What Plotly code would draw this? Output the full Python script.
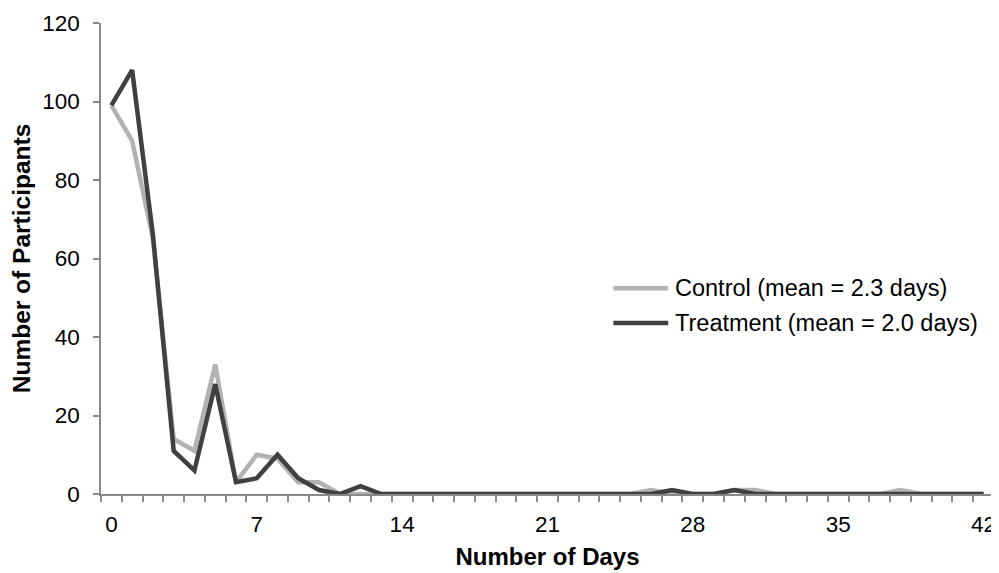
import plotly.graph_objects as go

days = list(range(0, 43))
control = [99, 90, 65, 14, 11, 33, 3, 10, 9, 3, 3, 0, 0, 0, 0, 0, 0, 0, 0, 0,
           0, 0, 0, 0, 0, 0, 1, 0, 0, 0, 1, 1, 0, 0, 0, 0, 0, 0, 1, 0, 0, 0, 0]
treatment = [99, 108, 66, 11, 6, 28, 3, 4, 10, 4, 1, 0, 2, 0, 0, 0, 0, 0, 0, 0,
             0, 0, 0, 0, 0, 0, 0, 1, 0, 0, 1, 0, 0, 0, 0, 0, 0, 0, 0, 0, 0, 0, 0]
series_names = ["Control (mean = 2.3 days)", "Treatment (mean = 2.0 days)"]
x_tick_vals = [0, 7, 14, 21, 28, 35, 42]
y_tick_vals = [0, 20, 40, 60, 80, 100, 120]

FONT = "Liberation Sans, Arial, sans-serif"
COLORS = ["#b2b2b2", "#404040"]
AXIS = "#898989"

fig = go.Figure()
for vals, name, col in zip([control, treatment], series_names, COLORS):
    fig.add_trace(go.Scatter(x=days, y=vals, mode="lines", name=name,
                             line=dict(color=col, width=4.5), showlegend=False))

# manual legend (line sample + label) in paper coordinates
leg_rows = [0.4367, 0.3629]
for name, col, yy in zip(series_names, COLORS, leg_rows):
    fig.add_shape(type="line", xref="paper", yref="paper",
                  x0=0.5738, x1=0.6352, y0=yy, y1=yy,
                  line=dict(color=col, width=4.5))
    fig.add_annotation(xref="paper", yref="paper", x=0.6410, y=yy,
                       xanchor="left", yanchor="middle", showarrow=False,
                       text=name, font=dict(size=23.5, family=FONT, color="#000"))

fig.update_layout(
    width=991, height=565,
    margin=dict(l=93, r=3, t=12, b=79),
    paper_bgcolor="white", plot_bgcolor="white",
    font=dict(family=FONT, size=22, color="#000000"),
)
fig.update_xaxes(
    range=[-0.5, 42.5], tickmode="array", tickvals=x_tick_vals,
    ticks="", showgrid=False, zeroline=False,
    showline=True, linecolor=AXIS, linewidth=1.5,
    tickfont=dict(size=22.5, family=FONT), ticklabelstandoff=9,
    ticklabeloverflow="allow",
    minor=dict(tickmode="linear", tick0=-0.5, dtick=1, ticks="outside",
               ticklen=6, tickcolor=AXIS, tickwidth=1.5, showgrid=False),
    title=dict(text="<b>Number of Days</b>", font=dict(size=24, family=FONT), standoff=12),
)
fig.update_yaxes(
    range=[0, 120], tickmode="array", tickvals=y_tick_vals,
    ticks="outside", ticklen=6, tickcolor=AXIS, tickwidth=1.5,
    showgrid=False, zeroline=False,
    showline=True, linecolor=AXIS, linewidth=1.5,
    tickfont=dict(size=22.5, family=FONT), ticklabelstandoff=9,
    ticklabeloverflow="allow",
    title=dict(text="<b>Number of Participants</b>", font=dict(size=24.5, family=FONT), standoff=10),
)

fig.write_html("out.html")
